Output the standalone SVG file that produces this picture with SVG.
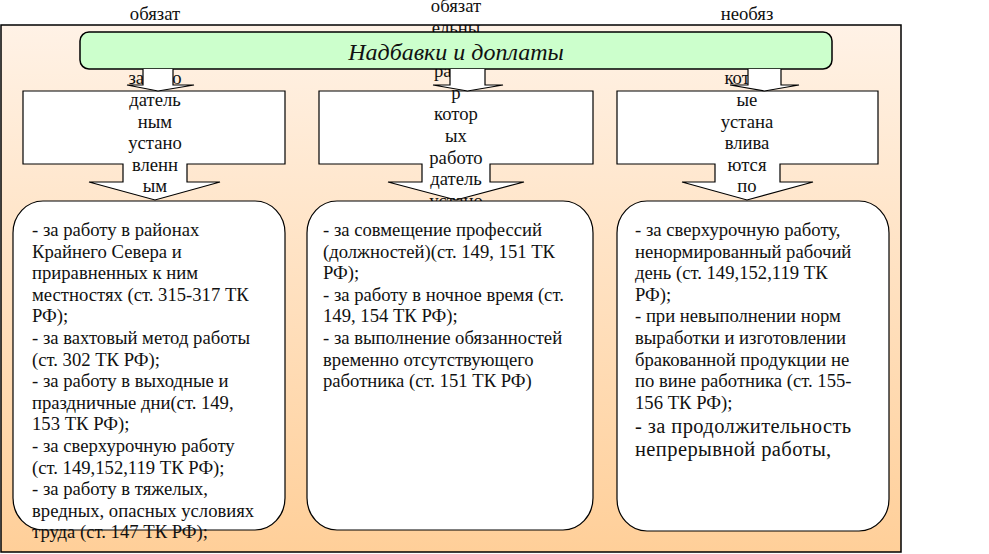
<svg xmlns="http://www.w3.org/2000/svg" width="989" height="554" viewBox="0 0 989 554">
<defs>
<linearGradient id="bg" x1="0" y1="0" x2="0" y2="1">
<stop offset="0" stop-color="#FFF2E6"/>
<stop offset="1" stop-color="#FFCF99"/>
</linearGradient>
</defs>
<style>
.ln{stroke:#000;stroke-width:1.2;fill:#fff}
.c{text-anchor:middle}
.e{text-anchor:end}
</style>
<rect width="989" height="554" fill="#fff"/>
<g id="frame"><rect x="1" y="25" width="900" height="527" fill="url(#bg)" stroke="#000" stroke-width="1.5"/></g>

<g id="callout1">
<path class="ln" d="M23,91 H285 V164 H187 V182 H220 L155,200 L89,182 H123 V164 H23 Z"/>
<g font-family="Times New Roman, Liberation Serif, serif" font-size="18.67" fill="#111">
<text class="c" x="155" y="19.5">обязат</text>
<text x="128.5" y="84">за</text>
<text class="e" x="181.5" y="84">о</text>
<text class="c" x="155" y="105.9">датель</text>
<text class="c" x="155" y="127.5">ным</text>
<text class="c" x="155" y="149.1">устано</text>
<text class="c" x="155" y="170.7">вленн</text>
<text class="c" x="155" y="192.3">ым</text>
</g>
</g>
<g id="callout2">
<path class="ln" d="M319,91 H593 V164 H490 V182 H524 L456,200 L388,182 H422 V164 H319 Z"/>
<g font-family="Times New Roman, Liberation Serif, serif" font-size="18.67" fill="#111">
<text class="c" x="456" y="12.3">обязат</text>
<text class="c" x="456" y="33.9">ельны</text>
<text x="434" y="77.1">ра</text>
<text class="c" x="456" y="98.7">р</text>
<text class="c" x="456" y="120.3">котор</text>
<text class="c" x="456" y="141.9">ых</text>
<text class="c" x="456" y="163.5">работо</text>
<text class="c" x="456" y="185.1">датель</text>
<text class="c" x="456" y="206.7">устано</text>
</g>
</g>
<g id="callout3">
<path class="ln" d="M617,91 H878 V164 H780 V182 H813 L747,200 L682,182 H715 V164 H617 Z"/>
<g font-family="Times New Roman, Liberation Serif, serif" font-size="18.67" fill="#111">
<text class="c" x="747" y="19.5">необяз</text>
<text x="724.5" y="84.3">кот</text>
<text class="c" x="747" y="105.9">ые</text>
<text class="c" x="747" y="127.5">устана</text>
<text class="c" x="747" y="149.1">влива</text>
<text class="c" x="747" y="170.7">ются</text>
<text class="c" x="747" y="192.3">по</text>
</g>
</g>

<g id="title">
<rect x="80" y="32" width="752" height="37" rx="9" fill="#CCFFCC" stroke="#000" stroke-width="1.5"/>
<text x="456" y="60" text-anchor="middle" font-family="Times New Roman, Liberation Serif, serif" font-size="24" font-style="italic" fill="#111">Надбавки и доплаты</text>
</g>

<g id="connectors">
<path class="ln" d="M143,69 V85 H127 L158,91 L194,85 H173 V69"/>
<path class="ln" d="M450,69 V85 H433 L467.5,91 L503,85 H485 V69"/>
<path class="ln" d="M748,69 V85 H730 L764.5,91 L799,85 H781 V69"/>
</g>

<g id="box1">
<path class="ln" d="M43,201 H255 A30,32 0 0 1 285,233 V498 A30,32 0 0 1 255,530 H43 A30,32 0 0 1 13,498 V233 A30,32 0 0 1 43,201 Z"/>
<text font-family="Times New Roman, Liberation Serif, serif" font-size="18.67" fill="#111">
<tspan x="32" y="236">- за работу в районах</tspan>
<tspan x="32" y="257.6">Крайнего Севера и</tspan>
<tspan x="32" y="279.2">приравненных к ним</tspan>
<tspan x="32" y="300.8">местностях (ст. 315-317 ТК</tspan>
<tspan x="32" y="322.4">РФ);</tspan>
<tspan x="32" y="344">- за вахтовый метод работы</tspan>
<tspan x="32" y="365.6">(ст. 302 ТК РФ);</tspan>
<tspan x="32" y="387.2">- за работу в выходные и</tspan>
<tspan x="32" y="408.8">праздничные дни(ст. 149,</tspan>
<tspan x="32" y="430.4">153 ТК РФ);</tspan>
<tspan x="32" y="452">- за сверхурочную работу</tspan>
<tspan x="32" y="473.6">(ст. 149,152,119 ТК РФ);</tspan>
<tspan x="32" y="495.2">-  за работу в тяжелых,</tspan>
<tspan x="32" y="516.8">вредных, опасных условиях</tspan>
<tspan x="32" y="538.4">труда (ст. 147 ТК РФ);</tspan>
</text>
</g>
<g id="box2">
<path class="ln" d="M337,201 H563 A30,32 0 0 1 593,233 V498 A30,32 0 0 1 563,530 H337 A30,32 0 0 1 307,498 V233 A30,32 0 0 1 337,201 Z"/>
<text font-family="Times New Roman, Liberation Serif, serif" font-size="18.67" fill="#111">
<tspan x="323" y="236">- за совмещение профессий</tspan>
<tspan x="323" y="257.6">(должностей)(ст. 149, 151 ТК</tspan>
<tspan x="323" y="279.2">РФ);</tspan>
<tspan x="323" y="300.8">- за работу в ночное время (ст.</tspan>
<tspan x="323" y="322.4">149, 154 ТК РФ);</tspan>
<tspan x="323" y="344">- за выполнение обязанностей</tspan>
<tspan x="323" y="365.6">временно отсутствующего</tspan>
<tspan x="323" y="387.2">работника (ст. 151 ТК РФ)</tspan>
</text>
</g>
<g id="box3">
<path class="ln" d="M647,201 H859 A30,32 0 0 1 889,233 V499 A30,32 0 0 1 859,531 H647 A30,32 0 0 1 617,499 V233 A30,32 0 0 1 647,201 Z"/>
<text font-family="Times New Roman, Liberation Serif, serif" font-size="18.67" fill="#111">
<tspan x="635" y="236">- за сверхурочную работу,</tspan>
<tspan x="635" y="257.6">ненормированный рабочий</tspan>
<tspan x="635" y="279.2">день (ст. 149,152,119 ТК</tspan>
<tspan x="635" y="300.8">РФ);</tspan>
<tspan x="635" y="322.4">- при невыполнении норм</tspan>
<tspan x="635" y="344">выработки и изготовлении</tspan>
<tspan x="635" y="365.6">бракованной продукции не</tspan>
<tspan x="635" y="387.2">по вине работника (ст. 155-</tspan>
<tspan x="635" y="408.8">156 ТК РФ);</tspan>
</text>
<text font-family="Times New Roman, Liberation Serif, serif" font-size="20.5" letter-spacing="0.4" fill="#111">
<tspan x="635" y="433">- за продолжительность</tspan>
<tspan x="635" y="456">непрерывной работы,</tspan>
</text>
</g>
</svg>
